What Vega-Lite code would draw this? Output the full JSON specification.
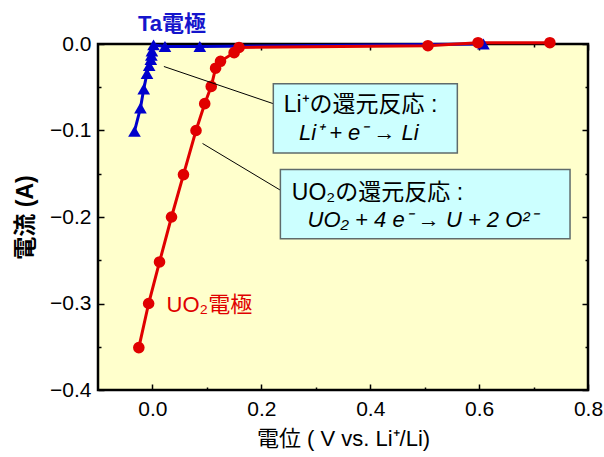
{
  "$schema": "https://vega.github.io/schema/vega-lite/v6.json",
  "width": 490,
  "height": 346,
  "autosize": {"type": "none"},
  "padding": {"left": 98, "top": 44, "right": 16, "bottom": 67},
  "config": {
    "font": "Liberation Sans, Noto Sans CJK JP, sans-serif",
    "view": {"fill": "#FFFFCC", "stroke": "#000000", "strokeWidth": 2.5},
    "axis": {"grid": false, "domain": false, "tickColor": "#000000", "tickWidth": 1.5, "labelColor": "#000000", "titleColor": "#000000"}
  },
  "datasets": {
    "curves": [
      {"series": "Ta", "x": -0.033, "y": -0.101},
      {"series": "Ta", "x": -0.022, "y": -0.074},
      {"series": "Ta", "x": -0.016, "y": -0.052},
      {"series": "Ta", "x": -0.010, "y": -0.034},
      {"series": "Ta", "x": -0.006, "y": -0.025},
      {"series": "Ta", "x": -0.003, "y": -0.018},
      {"series": "Ta", "x": -0.002, "y": -0.013},
      {"series": "Ta", "x": -0.001, "y": -0.008},
      {"series": "Ta", "x": 0.002, "y": -0.001},
      {"series": "Ta", "x": 0.023, "y": -0.003},
      {"series": "Ta", "x": 0.087, "y": -0.003},
      {"series": "Ta", "x": 0.608, "y": 0.0},
      {"series": "UO2", "x": -0.025, "y": -0.351},
      {"series": "UO2", "x": -0.007, "y": -0.300},
      {"series": "UO2", "x": 0.013, "y": -0.252},
      {"series": "UO2", "x": 0.035, "y": -0.200},
      {"series": "UO2", "x": 0.057, "y": -0.151},
      {"series": "UO2", "x": 0.080, "y": -0.100},
      {"series": "UO2", "x": 0.096, "y": -0.069},
      {"series": "UO2", "x": 0.108, "y": -0.049},
      {"series": "UO2", "x": 0.116, "y": -0.028},
      {"series": "UO2", "x": 0.125, "y": -0.020},
      {"series": "UO2", "x": 0.150, "y": -0.010},
      {"series": "UO2", "x": 0.159, "y": -0.004},
      {"series": "UO2", "x": 0.506, "y": -0.002},
      {"series": "UO2", "x": 0.598, "y": 0.0015},
      {"series": "UO2", "x": 0.730, "y": 0.0015}
    ],
    "leaders": [
      {"x": 0.021, "y": -0.026, "x2": 0.222, "y2": -0.069},
      {"x": 0.092, "y": -0.115, "x2": 0.235, "y2": -0.169}
    ],
    "boxes": [
      {"x": 0.222, "x2": 0.560, "y": -0.046, "y2": -0.126},
      {"x": 0.235, "x2": 0.767, "y": -0.145, "y2": -0.225}
    ],
    "plainText": [
      {"x": 0.241, "y": -0.0705, "t": "Li⁺の還元反応 :"},
      {"x": 0.256, "y": -0.172, "t": "UO₂の還元反応 :"}
    ],
    "italicText": [
      {"x": 0.269, "y": -0.103, "t": "Li⁺ + e⁻ → Li"},
      {"x": 0.285, "y": -0.2035, "t": "UO₂ + 4 e⁻ → U + 2 O²⁻"}
    ],
    "taLabel": [{"x": 0.036, "y": 0.023, "t": "Ta電極"}],
    "uoLabel": [{"x": 0.026, "y": -0.302, "t": "UO₂電極"}]
  },
  "resolve": {"axis": {"x": "independent", "y": "independent"}},
  "layer": [
    {
      "data": {"name": "curves"},
      "mark": {"type": "line", "strokeWidth": 3},
      "encoding": {
        "x": {"field": "x", "type": "quantitative",
          "scale": {"domain": [-0.1, 0.8], "nice": false, "zero": false},
          "axis": {"orient": "bottom", "values": [0, 0.2, 0.4, 0.6, 0.8], "format": ".1f", "tickSize": -6, "labelPadding": 14, "labelFontSize": 21, "labelFlush": false,
            "title": "電位 ( V vs. Li⁺/Li)", "titleFontSize": 22, "titleFontWeight": "normal", "titlePadding": 9}},
        "y": {"field": "y", "type": "quantitative",
          "scale": {"domain": [-0.4, 0], "nice": false, "zero": false},
          "axis": {"orient": "left", "values": [0, -0.1, -0.2, -0.3, -0.4], "format": ".1f", "tickSize": -6, "labelPadding": 13, "labelFontSize": 21, "labelFlush": false,
            "title": "電流 (A)", "titleFontSize": 23, "titleFontWeight": "bold", "titlePadding": 12}},
        "color": {"field": "series", "type": "nominal", "scale": {"domain": ["Ta", "UO2"], "range": ["#0000CC", "#E00000"]}, "legend": null}
      }
    },
    {
      "data": {"name": "curves"},
      "mark": {"type": "point", "filled": true, "opacity": 1},
      "encoding": {
        "x": {"field": "x", "type": "quantitative",
          "axis": {"orient": "bottom", "values": [0.1, 0.3, 0.5, 0.7], "tickSize": -3, "labels": false, "title": null}},
        "y": {"field": "y", "type": "quantitative",
          "axis": {"orient": "left", "values": [-0.05, -0.15, -0.25, -0.35], "tickSize": -3, "labels": false, "title": null}},
        "color": {"field": "series", "type": "nominal", "legend": null},
        "shape": {"field": "series", "type": "nominal", "scale": {"domain": ["Ta", "UO2"], "range": ["triangle-up", "circle"]}, "legend": null},
        "size": {"field": "series", "type": "nominal", "scale": {"domain": ["Ta", "UO2"], "range": [160, 135]}, "legend": null}
      }
    },
    {
      "data": {"name": "leaders"},
      "mark": {"type": "rule", "color": "#000000", "strokeWidth": 1},
      "encoding": {
        "x": {"field": "x", "type": "quantitative",
          "axis": {"orient": "top", "values": [0, 0.2, 0.4, 0.6, 0.8], "tickSize": -6, "labels": false, "title": null}},
        "y": {"field": "y", "type": "quantitative",
          "axis": {"orient": "right", "values": [0, -0.1, -0.2, -0.3, -0.4], "tickSize": -6, "labels": false, "title": null}},
        "x2": {"field": "x2"},
        "y2": {"field": "y2"}
      }
    },
    {
      "data": {"name": "boxes"},
      "mark": {"type": "rect", "fill": "#CCFFFF", "stroke": "#5F6B6B", "strokeWidth": 1.5},
      "encoding": {
        "x": {"field": "x", "type": "quantitative",
          "axis": {"orient": "top", "values": [0.1, 0.3, 0.5, 0.7], "tickSize": -3, "labels": false, "title": null}},
        "y": {"field": "y", "type": "quantitative",
          "axis": {"orient": "right", "values": [-0.05, -0.15, -0.25, -0.35], "tickSize": -3, "labels": false, "title": null}},
        "x2": {"field": "x2"},
        "y2": {"field": "y2"}
      }
    },
    {
      "data": {"name": "plainText"},
      "mark": {"type": "text", "align": "left", "baseline": "middle", "fontSize": 23, "color": "#000000"},
      "encoding": {
        "x": {"field": "x", "type": "quantitative", "axis": null},
        "y": {"field": "y", "type": "quantitative", "axis": null},
        "text": {"field": "t"}
      }
    },
    {
      "data": {"name": "italicText"},
      "mark": {"type": "text", "align": "left", "baseline": "middle", "fontSize": 22, "fontStyle": "italic", "color": "#000000"},
      "encoding": {
        "x": {"field": "x", "type": "quantitative", "axis": null},
        "y": {"field": "y", "type": "quantitative", "axis": null},
        "text": {"field": "t"}
      }
    },
    {
      "data": {"name": "taLabel"},
      "mark": {"type": "text", "align": "center", "baseline": "middle", "fontSize": 22, "fontWeight": "bold", "color": "#1515CC"},
      "encoding": {
        "x": {"field": "x", "type": "quantitative", "axis": null},
        "y": {"field": "y", "type": "quantitative", "axis": null},
        "text": {"field": "t"}
      }
    },
    {
      "data": {"name": "uoLabel"},
      "mark": {"type": "text", "align": "left", "baseline": "middle", "fontSize": 22, "color": "#E00000"},
      "encoding": {
        "x": {"field": "x", "type": "quantitative", "axis": null},
        "y": {"field": "y", "type": "quantitative", "axis": null},
        "text": {"field": "t"}
      }
    }
  ]
}
